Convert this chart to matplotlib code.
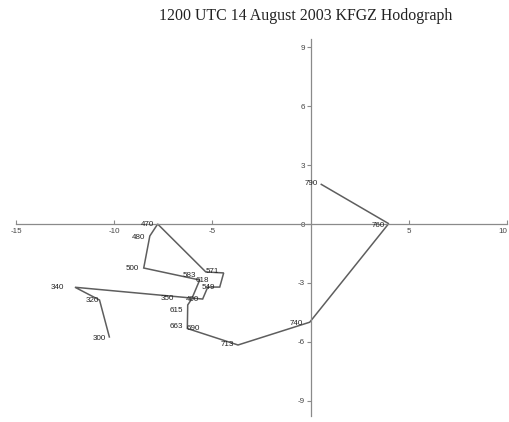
import matplotlib
matplotlib.use("Agg")
import matplotlib.pyplot as plt

# hodograph trace (u, v) in drawing order, m/s
path_u = [0.54, 3.97, -0.05, -3.70, -6.28, -6.26, -6.06, -5.65, -8.50, -8.19, -7.79,
          -5.34, -4.43, -4.63, -5.24, -5.50, -12.0, -10.75, -10.25]
path_v = [2.02, 0.02, -5.00, -6.16, -5.32, -4.12, -3.82, -2.85, -2.24, -0.61, 0.0,
          -2.44, -2.49, -3.21, -3.21, -3.82, -3.22, -3.87, -5.75]

# level labels (pressure, mb) and where they sit
lab_text = ["790", "760", "740", "713", "690", "663", "615", "400", "350", "583",
            "571", "549", "618", "500", "480", "470", "340", "320", "300"]
lab_u = [0.04, 3.46, -0.73, -4.22, -6.00, -6.82, -6.82, -6.00, -7.28, -6.16,
         -4.99, -5.19, -5.50, -9.06, -8.75, -8.30, -12.88, -11.09, -10.74]
lab_v = [2.06, -0.05, -5.09, -6.11, -5.34, -5.24, -4.38, -3.82, -3.77, -2.60,
         -2.44, -3.21, -2.90, -2.24, -0.71, 0.0, -3.21, -3.87, -5.85]

xticks = [-15, -10, -5, 5, 10]
yticks = [9, 6, 3, 0, -3, -6, -9]

title = "1200 UTC 14 August 2003 KFGZ Hodograph"


def main() -> None:
    fig = plt.figure(figsize=(5.10, 4.22), dpi=100)
    ax = fig.add_axes([0.0122, 0.0038, 0.986, 0.912])
    ax.set_xlim(-15.5, 10.1)
    ax.set_ylim(-10.0, 9.6)

    axis_col = "#8a8a8a"
    for side in ("top", "right"):
        ax.spines[side].set_visible(False)
    ax.spines["bottom"].set_position(("data", 0))
    ax.spines["left"].set_position(("data", 0))
    ax.spines["bottom"].set_bounds(-15, 10)
    ax.spines["left"].set_bounds(-9.8, 9.4)
    for side in ("bottom", "left"):
        ax.spines[side].set_color(axis_col)
        ax.spines[side].set_linewidth(0.9)

    ax.set_xticks(xticks)
    ax.set_xticklabels([str(t) for t in xticks])
    ax.set_yticks(yticks)
    ax.set_yticklabels([str(t) for t in yticks])
    ax.tick_params(axis="x", direction="in", length=3, width=0.8, color=axis_col,
                   labelsize=5.8, labelcolor="#444444", pad=3)
    ax.tick_params(axis="y", direction="out", length=3, width=0.8, color=axis_col,
                   labelsize=5.8, labelcolor="#444444", pad=1)
    for lbl in ax.get_xticklabels() + ax.get_yticklabels():
        lbl.set_family("Liberation Sans")
    # keep the last x label inside the figure
    ax.get_xticklabels()[-1].set_horizontalalignment("right")

    ax.plot(path_u, path_v, color="#5e5e5e", lw=1.1, solid_joinstyle="miter")

    for t, u, v in zip(lab_text, lab_u, lab_v):
        ax.text(u, v, t, fontsize=5.8, family="Liberation Sans", color="#222222",
                ha="center", va="center")

    fig.text(0.60, 0.962, title, family="Liberation Serif", fontsize=11.4,
             ha="center", va="center", color="#222222")

    fig.savefig("out.png", dpi=100)
    plt.close(fig)


if __name__ == "__main__":
    main()
